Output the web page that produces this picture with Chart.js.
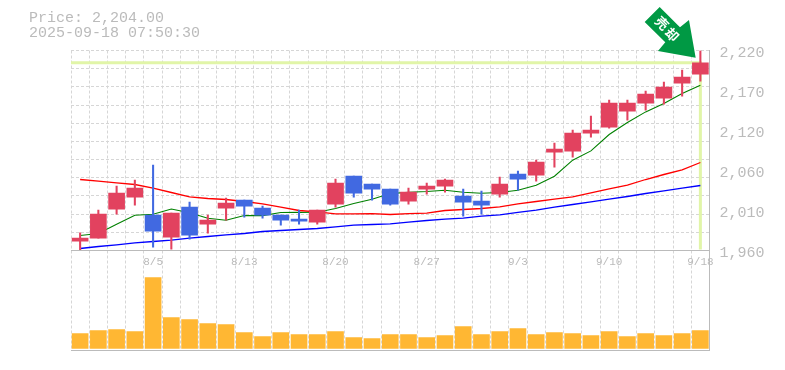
<!DOCTYPE html>
<html><head><meta charset="utf-8">
<style>html,body{margin:0;padding:0;background:#fff}canvas{display:block}</style>
<script src="https://cdn.jsdelivr.net/npm/chart.js@4"></script>
</head><body><canvas id="c" width="785" height="370"></canvas>
<script>
const categories=['7/30','7/31','8/1','8/4','8/5','8/6','8/7','8/8','8/12','8/13','8/14','8/15','8/18','8/19','8/20','8/21','8/22','8/25','8/26','8/27','8/28','8/29','9/1','9/2','9/3','9/4','9/5','9/8','9/9','9/10','9/11','9/12','9/16','9/17','9/18'];
const shownDates=['8/5','8/13','8/20','8/27','9/3','9/10','9/18'];
const opens=[1972,1976,2013.7,2029.3,2005.9,1977.3,2016.3,1994.2,2015,2025.4,2015,2005.9,2000.7,1996.8,2020.2,2056.6,2046.2,2039.7,2024.1,2039.7,2043.6,2030.6,2024.1,2033.2,2059.2,2057.9,2087.8,2089.1,2112.5,2120.3,2141.1,2151.5,2158,2177.5,2189.2];
const closes=[1976,2007.2,2034.5,2041,1985.1,2008.5,1979.9,1999.4,2021.5,2017.6,2005.9,1999.4,1998.1,2012.4,2047.5,2034.5,2039.7,2020.2,2035.8,2043.6,2051.4,2022.8,2018.9,2046.2,2052.7,2074.8,2091.7,2112.5,2116.4,2151.5,2151.5,2163.2,2172.3,2185.3,2204];
const highs=[1983,2012.4,2043.6,2051.4,2070.9,2008.5,2022.8,2005.9,2028,2025.4,2017.6,2005.9,2012.4,2012.4,2052.7,2056.6,2046.2,2039.7,2041,2047.5,2052.7,2039.7,2037.1,2055.3,2063.1,2077.4,2099.5,2116.4,2134.6,2155.4,2155.4,2167.1,2178.8,2194.4,2220];
const lows=[1961,1976,2007.2,2018.9,1964.3,1961.7,1974.7,1982.5,1999.4,2003.3,2002,1992.9,1994.2,1994.2,2016.3,2029.3,2025.4,2018.9,2020.2,2033.2,2035.8,2004.6,2007.2,2029.3,2038.4,2050.1,2068.3,2081.3,2107.3,2119,2129.4,2142.4,2150.2,2160.6,2180];
const maShort=[1979.5,1982,1994.2,2005.9,2007.2,2014,2009,2002,1999.4,2005.4,2005.4,2009.4,2009.6,2009.8,2014.6,2021,2026.7,2034,2035.8,2036.7,2038.4,2035.8,2034.5,2035.4,2038.4,2044.9,2056.6,2077.4,2089.5,2110.8,2126.4,2140.2,2151,2164,2174.9];
const maMid=[2052.3,2050.1,2047.9,2045.8,2041,2035.4,2029.7,2027.6,2026.3,2023.7,2020.6,2016.3,2012,2010.2,2007.6,2007.6,2008,2006.8,2008,2008.5,2012,2013.3,2014.6,2016.7,2020.5,2023.7,2026.7,2029.7,2035,2040,2045,2052.3,2058.8,2064.8,2074.4];
const maLong=[1962.6,1965.2,1967.3,1969.9,1971.7,1973.4,1976,1978.2,1980.3,1982.1,1984.7,1986,1987.3,1988.6,1990.7,1992.9,1993.8,1994.6,1996.8,1999,2000.7,2002,2004.6,2006.3,2009.5,2012.4,2016.3,2019.8,2023.2,2026.7,2030.2,2034.1,2037.5,2041,2044.5];
const volumes=[1500,1800,1900,1700,7100,3100,2900,2500,2400,1600,1200,1600,1400,1400,1700,1100,1000,1400,1400,1100,1300,2200,1400,1700,2000,1400,1600,1500,1300,1700,1200,1500,1300,1500,1800];
const priceTicks=[1960,2012,2064,2116,2168,2220];
const priceTickLabels=['1,960','2,010','2,060','2,120','2,170','2,220'];
const gridDivisions=[0,1,2,3,4,5,6,7,8,9,10,11];
const headerLines=['Price: 2,204.00','2025-09-18 07:50:30'];
const badgeText=['売','却'];

const RED='#E2425F',BLUE='#4169E1',GRID='#d6d6d6',FRAME='#bbbbbb',TXT='#bbbbbb',MARK='#E1F5A8';
const candleColors=opens.map((o,i)=>closes[i]>=o?RED:BLUE);
const pMin=priceTicks[0],pMax=priceTicks[priceTicks.length-1];
const gridValues=gridDivisions.map(d=>pMin+(pMax-pMin)*d/11);

const overlay={
 id:'overlay',
 beforeDatasetsDraw(ch){
  const {ctx,scales:{x,y},chartArea:a}=ch;const n=categories.length-1;
  const px=x.getPixelForValue(n),py=y.getPixelForValue(closes[n]);
  ctx.save();ctx.strokeStyle=MARK;ctx.lineWidth=3;
  ctx.beginPath();ctx.moveTo(a.left,py);ctx.lineTo(px,py);ctx.lineTo(px,y.getPixelForValue(pMin)-1);ctx.stroke();
  ctx.restore();
 },
 afterDraw(ch){
  const {ctx,scales:{x,y}}=ch;const n=categories.length-1;
  const tx=x.getPixelForValue(n)-4.7,ty=y.getPixelForValue(highs[n])+7.2;
  ctx.save();
  ctx.font='15px "Liberation Mono"';ctx.fillStyle=TXT;ctx.textBaseline='middle';ctx.textAlign='left';
  headerLines.forEach((t,i)=>ctx.fillText(t,29,18+i*15));
  ctx.fillStyle='#009944';ctx.beginPath();
  [[-51,-35.7],[-36,-50.7],[-15.7,-30.4],[-6.7,-37.7],[0,0],[-37.7,-6.7],[-30.4,-15.4]].forEach((p,i)=>i?ctx.lineTo(tx+p[0],ty+p[1]):ctx.moveTo(tx+p[0],ty+p[1]));
  ctx.closePath();ctx.fill();
  ctx.fillStyle='#fff';ctx.font='bold 13px "Noto Sans CJK JP"';ctx.textAlign='center';
  [[-33.5,-34.5],[-23.5,-23]].forEach((p,i)=>{ctx.save();ctx.translate(tx+p[0],ty+p[1]);ctx.rotate(Math.PI/4);ctx.fillText(badgeText[i],0,0);ctx.restore();});
  ctx.restore();
 }
};

new Chart(document.getElementById('c'),{
 data:{labels:categories,datasets:[
  {type:'line',data:maShort,yAxisID:'y',borderColor:'#008000',borderWidth:1.1,pointRadius:0,order:5},
  {type:'line',data:maMid,yAxisID:'y',borderColor:'#ff0000',borderWidth:1.3,pointRadius:0,order:4},
  {type:'line',data:maLong,yAxisID:'y',borderColor:'#0000ff',borderWidth:1.3,pointRadius:0,order:3},
  {type:'bar',data:lows.map((l,i)=>[l,highs[i]]),yAxisID:'y',backgroundColor:candleColors,barThickness:1.4,grouped:false,order:2},
  {type:'bar',data:opens.map((o,i)=>[o,closes[i]]),yAxisID:'y',backgroundColor:candleColors,barThickness:16,grouped:false,order:1},
  {type:'bar',data:volumes,yAxisID:'vol',backgroundColor:'#FFB733',barThickness:16,grouped:false,order:1}
 ]},
 options:{
  responsive:false,animation:false,events:[],
  layout:{padding:{top:50.5,left:71,right:0,bottom:19.5}},
  plugins:{legend:{display:false},tooltip:{enabled:false},title:{display:false}},
  scales:{
   x:{type:'category',position:{y:pMin},offset:true,
      grid:{offset:true,color:GRID,drawTicks:false,lineWidth:1},
      border:{dash:[3,2],color:FRAME,width:1},
      ticks:{autoSkip:false,maxRotation:0,minRotation:0,padding:5,color:TXT,font:{family:'"Liberation Mono"',size:11},
        callback(v){const s=categories[v];return shownDates.includes(s)?s:'';}}},
   y:{type:'linear',position:'right',stack:'panes',stackWeight:2,min:pMin,max:pMax,
      afterBuildTicks(s){s.ticks=[...new Set([...gridValues,...priceTicks])].sort((a,b)=>a-b).map(value=>({value}));},
      afterFit(s){s.width=75.5;},
      grid:{drawTicks:false,color(c){return gridValues.some(g=>Math.abs(g-c.tick.value)<1e-6)?GRID:'rgba(0,0,0,0)';}},
      border:{dash:[3,2],color:FRAME,width:1},
      ticks:{autoSkip:false,padding:10,labelOffset:3,color:TXT,font:{family:'"Liberation Mono"',size:15},
        callback(v){const i=priceTicks.indexOf(v);return i>=0?priceTickLabels[i]:'';}}},
   vol:{type:'linear',position:'right',stack:'panes',stackWeight:1,min:-200,max:9800,
      afterBuildTicks(s){s.ticks=[{value:-200}];},
      afterFit(s){s.width=75.5;},
      grid:{drawTicks:false,color:FRAME},
      border:{color:FRAME,width:1},
      ticks:{display:false}}
  }
 },
 plugins:[overlay]
});
</script></body></html>
